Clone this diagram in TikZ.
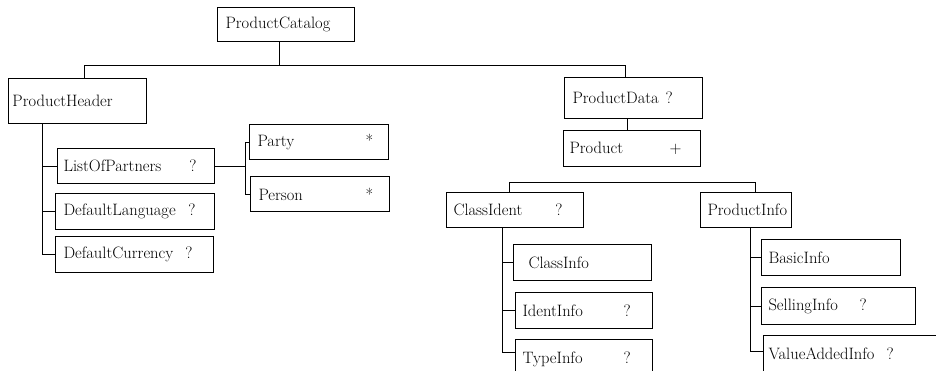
\documentclass[tikz,border=0pt]{standalone}
\usetikzlibrary{calc}
\newcommand{\boxtxt}[4]{\hspace*{#1pt}\makebox[#2pt][l]{#3}#4}
\tikzset{
  bx/.style={draw, line width=1pt, rectangle, anchor=north west, inner sep=0pt,
    align=left, font=\fontsize{16.5}{19}\selectfont},
  ln/.style={draw, line width=1pt}
}
\begin{document}
\begin{tikzpicture}[x=1pt,y=-1pt]
\clip (0,0) rectangle (936,370);
\fill[white] (0,0) rectangle (936,370);
% boxes
\node[bx, minimum width=137pt, minimum height=34pt, text width=137pt] (cat) at (217,7) {\boxtxt{8}{100}{ProductCatalog}{}};
\node[bx, minimum width=138pt, minimum height=45pt, text width=138pt] (hdr) at (8,78) {\boxtxt{4}{100}{ProductHeader}{}};
\node[bx, minimum width=157pt, minimum height=35pt, text width=157pt] (lop) at (57,148) {\boxtxt{6}{126}{ListOfPartners}{?}};
\node[bx, minimum width=159pt, minimum height=36pt, text width=159pt] (dl) at (55,193) {\boxtxt{8}{125}{DefaultLanguage}{?}};
\node[bx, minimum width=158pt, minimum height=36pt, text width=158pt] (dc) at (55,236) {\boxtxt{8}{122}{DefaultCurrency}{?}};
\node[bx, minimum width=139pt, minimum height=35pt, text width=139pt] (party) at (249,124) {\boxtxt{8}{108}{Party}{*}};
\node[bx, minimum width=139pt, minimum height=35pt, text width=139pt] (person) at (250,176) {\boxtxt{8}{107}{Person}{*}};
\node[bx, minimum width=138pt, minimum height=41pt, text width=138pt] (pdata) at (564,77) {\boxtxt{8}{93}{ProductData}{?}};
\node[bx, minimum width=137pt, minimum height=36pt, text width=137pt] (prod) at (563,130) {\boxtxt{6}{100}{Product}{+}};
\node[bx, minimum width=137pt, minimum height=35pt, text width=137pt] (ci) at (446,192) {\boxtxt{7}{102}{ClassIdent}{?}};
\node[bx, minimum width=91pt, minimum height=35pt, text width=91pt] (pi) at (700,192) {\boxtxt{7}{80}{ProductInfo}{}};
\node[bx, minimum width=138pt, minimum height=36pt, text width=138pt] (cinfo) at (513,244) {\boxtxt{15}{100}{ClassInfo}{}};
\node[bx, minimum width=137pt, minimum height=36pt, text width=137pt] (ii) at (515,292) {\boxtxt{7}{101}{IdentInfo}{?}};
\node[bx, minimum width=137pt, minimum height=40pt, text width=137pt] (ti) at (515,339) {\boxtxt{7}{101}{TypeInfo}{?}};
\node[bx, minimum width=139pt, minimum height=36pt, text width=139pt] (bi) at (761,239) {\boxtxt{7}{100}{BasicInfo}{}};
\node[bx, minimum width=154pt, minimum height=37pt, text width=154pt] (si) at (761,287) {\boxtxt{7}{91}{SellingInfo}{?}};
\node[bx, minimum width=190pt, minimum height=37pt, text width=190pt] (va) at (763,335) {\boxtxt{5}{118}{ValueAddedInfo}{?}};
% junction coordinates
\coordinate (t1) at (279,65);
\coordinate (t1l) at (84,65);
\coordinate (t1r) at (625,65);
\coordinate (hx) at (42,0);
\coordinate (px) at (245,0);
\coordinate (dx) at (627,0);
\coordinate (t2l) at (509,182);
\coordinate (t2r) at (755,182);
\coordinate (cx) at (502,0);
\coordinate (ix) at (750,0);
\coordinate (tib) at ($(ti.north west)+(0,13)$);
\coordinate (vab) at ($(va.north west)+(0,16)$);
% connectors
\draw[ln] (t1 |- cat.south) -- (t1);
\draw[ln] (t1l |- hdr.north) -- (t1l) -- (t1r) -- (t1r |- pdata.north);
\draw[ln] (hx |- hdr.south) |- (dc.west);
\draw[ln] (hx |- lop.west) -- (lop.west);
\draw[ln] (hx |- dl.west) -- (dl.west);
\draw[ln] (lop.east) -- (px |- lop.east);
\draw[ln] (party.west) -- (px |- party.west) -- (px |- person.west) -- (person.west);
\draw[ln] (dx |- pdata.south) -- (dx |- prod.north);
\draw[ln] (t2l |- ci.north) -- (t2l) -- (t2r) -- (t2r |- pi.north);
\draw[ln] (cx |- ci.south) |- (tib);
\draw[ln] (cx |- cinfo.west) -- (cinfo.west);
\draw[ln] (cx |- ii.west) -- (ii.west);
\draw[ln] (ix |- pi.south) |- (vab);
\draw[ln] (ix |- bi.west) -- (bi.west);
\draw[ln] (ix |- si.west) -- (si.west);
\end{tikzpicture}
\end{document}
